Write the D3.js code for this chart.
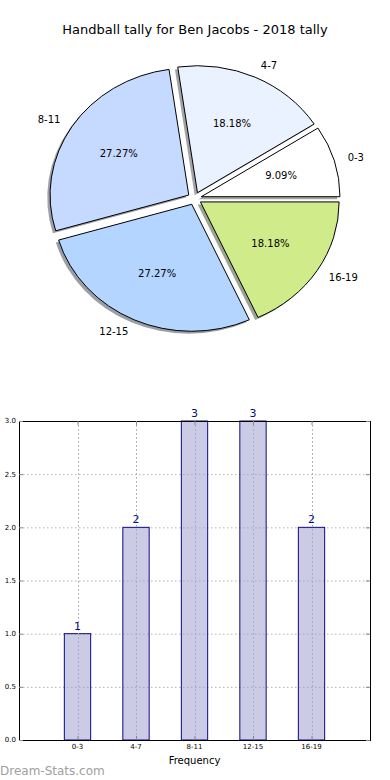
<!DOCTYPE html>
<html><head><meta charset="utf-8">
<script src="https://cdn.jsdelivr.net/npm/d3@7"></script>
<style>body{margin:0;background:#fff}svg{display:block;font-family:"DejaVu Sans",sans-serif}</style>
</head><body>
<script>
const title = "Handball tally for Ben Jacobs - 2018 tally";
const categories = ["0-3","4-7","8-11","12-15","16-19"];
const counts = [1,2,3,3,2];
const pieColors = ["#ffffff","#eaf1ff","#c6d9ff","#b3d5ff","#d0eb8a"];
const yTicks = [0,0.5,1.0,1.5,2.0,2.5,3.0];
const xLabel = "Frequency";
const watermark = "Dream-Stats.com";

const W = 390, H = 780;
const svg = d3.select("body").append("svg").attr("width", W).attr("height", H);

svg.append("text").attr("x", 195).attr("y", 34).attr("text-anchor","middle")
  .attr("font-size", 13).attr("fill","#000").text(title);

// ---- Pie ----
const cx = 194.6, cy = 198.5, rx = 138.7, ry = 127, explode = 0.05;
const pie = d3.pie().sort(null).startAngle(Math.PI/2).endAngle(Math.PI/2 - 2*Math.PI);
const arcs = pie(counts);
const total = d3.sum(counts);
const arc = d3.arc().innerRadius(0).outerRadius(rx);
const sy = ry/rx;
const pos = (a, f) => [cx + Math.sin(a)*rx*f, cy - Math.cos(a)*ry*f];

const pg = svg.append("g");
// shadows
arcs.forEach((d,i) => {
  const a = (d.startAngle + d.endAngle)/2;
  const [ox, oy] = [Math.sin(a)*rx*explode, -Math.cos(a)*ry*explode];
  const c = d3.rgb(pieColors[i]);
  pg.append("path")
    .attr("transform", `translate(${cx+ox-2.8},${cy+oy+2.5}) scale(1,${sy})`)
    .attr("d", arc(d))
    .attr("fill", d3.rgb(c.r*0.3, c.g*0.3, c.b*0.3)).attr("fill-opacity", 0.5);
});
arcs.forEach((d,i) => {
  const a = (d.startAngle + d.endAngle)/2;
  const [ox, oy] = [Math.sin(a)*rx*explode, -Math.cos(a)*ry*explode];
  pg.append("path")
    .attr("transform", `translate(${cx+ox},${cy+oy}) scale(1,${sy})`)
    .attr("d", arc(d))
    .attr("fill", pieColors[i]).attr("stroke","#000").attr("stroke-width",1)
    .attr("vector-effect","non-scaling-stroke");
});
arcs.forEach((d,i) => {
  const a = (d.startAngle + d.endAngle)/2;
  const [ox, oy] = [Math.sin(a)*rx*explode, -Math.cos(a)*ry*explode];
  const [lx, ly] = pos(a, 1.1);
  pg.append("text").attr("x", lx+ox).attr("y", ly+oy).attr("dy","0.35em")
    .attr("text-anchor", Math.sin(a) > 0 ? "start" : "end")
    .attr("font-size", 10).text(categories[i]);
  const [px, py] = pos(a, 0.6);
  pg.append("text").attr("x", px+ox).attr("y", py+oy).attr("dy","0.35em")
    .attr("text-anchor","middle").attr("font-size", 10)
    .text((counts[i]/total*100).toFixed(2) + "%");
});

// ---- Bar chart ----
const L = 19, R = 370, T = 421, B = 740;
const x = d3.scaleLinear().domain([-1, 5]).range([L, R]);
const y = d3.scaleLinear().domain([0, 3]).range([B, T]);
const bw = x(0.45) - x(0);
const g = svg.append("g");

// grid
g.selectAll(".hg").data(yTicks.filter(v => v > 0 && v < 3)).join("line")
  .attr("x1", L).attr("x2", R).attr("y1", d => y(d)+0.5).attr("y2", d => y(d)+0.5)
  .attr("stroke","#b0b0b0").attr("stroke-dasharray","1.5,2.5");
g.selectAll(".vg").data(categories).join("line")
  .attr("x1", (d,i) => Math.round(x(i))+0.5).attr("x2", (d,i) => Math.round(x(i))+0.5)
  .attr("y1", T).attr("y2", B)
  .attr("stroke","#b0b0b0").attr("stroke-dasharray","1.5,2.5");

// bars
g.selectAll(".bar").data(counts).join("rect")
  .attr("x", (d,i) => x(i) - bw/2).attr("width", bw)
  .attr("y", d => y(d)).attr("height", d => B - y(d))
  .attr("fill","rgba(160,160,210,0.55)").attr("stroke","#0a0a85").attr("stroke-width",1);

// grid over bars (vertical dotted visible through)
g.selectAll(".vg2").data(categories).join("line")
  .attr("x1", (d,i) => Math.round(x(i))+0.5).attr("x2", (d,i) => Math.round(x(i))+0.5)
  .attr("y1", T).attr("y2", B)
  .attr("stroke","#a8a8c0").attr("stroke-dasharray","1.5,2.5");

// value labels
g.selectAll(".vl").data(counts).join("text")
  .attr("x", (d,i) => x(i)).attr("y", d => y(d) - 4)
  .attr("text-anchor","middle").attr("font-size", 11).attr("fill","#0a0a85")
  .text(d => d);

// frame
g.append("rect").attr("x", L+0.5).attr("y", T+0.5).attr("width", R-L).attr("height", B-T)
  .attr("fill","none").attr("stroke","#000").attr("stroke-width",1);

// ticks inward
yTicks.forEach(v => {
  g.append("line").attr("x1", L).attr("x2", L+4).attr("y1", y(v)+0.5).attr("y2", y(v)+0.5).attr("stroke","#888");
  g.append("line").attr("x1", R-4).attr("x2", R).attr("y1", y(v)+0.5).attr("y2", y(v)+0.5).attr("stroke","#888");
});
categories.forEach((c,i) => {
  g.append("line").attr("x1", x(i)+0.5).attr("x2", x(i)+0.5).attr("y1", B-4).attr("y2", B).attr("stroke","#888");
  g.append("line").attr("x1", x(i)+0.5).attr("x2", x(i)+0.5).attr("y1", T).attr("y2", T+4).attr("stroke","#888");
});

// tick labels
g.selectAll(".yt").data(yTicks).join("text")
  .attr("x", L-3).attr("y", d => y(d)).attr("dy","0.35em")
  .attr("text-anchor","end").attr("font-size", 7).attr("fill","#000")
  .text(d => d.toFixed(1));
g.selectAll(".xt").data(categories).join("text")
  .attr("x", (d,i) => x(i)).attr("y", B+7).attr("dy","0.35em")
  .attr("text-anchor","middle").attr("font-size", 7).attr("fill","#000")
  .text(d => d);
g.append("text").attr("x", (L+R)/2).attr("y", 764).attr("text-anchor","middle")
  .attr("font-size", 10).text(xLabel);

svg.append("text").attr("x", 0).attr("y", 775).attr("font-size", 12)
  .attr("fill","#a0a0a0").text(watermark);
</script>
</body></html>
